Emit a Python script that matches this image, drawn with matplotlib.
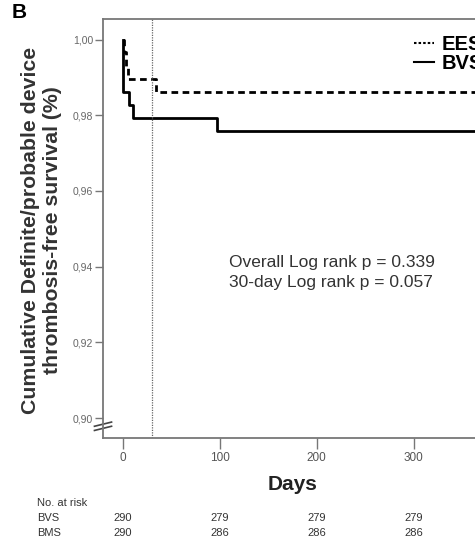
import matplotlib.pyplot as plt
from matplotlib.lines import Line2D
from matplotlib.transforms import blended_transform_factory

plt.rcParams['font.family'] = ['Liberation Sans', 'DejaVu Sans']

# datos de las curvas (Kaplan-Meier)
bvs_days = [0, 0.5, 6, 10, 97, 420]
bvs_surv = [1.0, 0.9862, 0.9828, 0.9793, 0.9758, 0.9758]
ees_days = [0, 1, 3, 5, 34, 420]
ees_surv = [1.0, 0.9966, 0.9931, 0.9897, 0.9862, 0.9862]

risk_days = [0, 100, 200, 300]
risk_bvs = [290, 279, 279, 279]
risk_bms = [290, 286, 286, 286]

xticks = [0, 100, 200, 300]
yticks = [0.90, 0.92, 0.94, 0.96, 0.98, 1.00]

fig = plt.figure(figsize=(4.75, 5.42), dpi=100)
ax = fig.add_axes([103 / 475, 104 / 542, 427 / 475, 419 / 542])

ax.step(ees_days, ees_surv, where='post', color='black', lw=2,
        linestyle=(0, (2.4, 1.6)))
ax.step(bvs_days, bvs_surv, where='post', color='black', lw=2)
ax.axvline(30, color='#666666', lw=0.9, linestyle=(0, (1, 1)))

ax.set_xlim(-20.6, 420)
ax.set_ylim(0.89472, 1.00542)
ax.set_xticks(xticks)
ax.set_yticks(yticks)
ax.set_yticklabels([f"{v:.2f}".replace('.', ',') for v in yticks])
ax.tick_params(axis='y', length=6, width=1, color='#777777', labelsize=7.5,
               labelcolor='#666666', pad=1)
ax.tick_params(axis='x', length=8, width=1, color='#777777', labelsize=8.5,
               labelcolor='#555555', pad=2)
for s in ax.spines.values():
    s.set_color('#777777')
    s.set_linewidth(1.3)

# marca de corte del eje
ax.plot([-0.02, 0.02], [0.028, 0.038], transform=ax.transAxes, color='#444444',
        lw=1.2, clip_on=False)
ax.plot([-0.02, 0.02], [0.018, 0.028], transform=ax.transAxes, color='#444444',
        lw=1.2, clip_on=False)

ax.text(109, 0.9411, 'Overall Log rank p = 0.339', fontsize=12.5, color='#333333', va='center')
ax.text(109, 0.9358, '30-day Log rank p = 0.057', fontsize=12.5, color='#333333', va='center')

handles = [Line2D([], [], color='black', lw=1.5, linestyle=(0, (1.2, 1))),
           Line2D([], [], color='black', lw=1.5)]
fig.legend(handles, ['EES', 'BVS'], loc='upper left', bbox_to_anchor=(396 / 475, 1 - 17 / 542),
           frameon=False, handlelength=1.0, handletextpad=0.35, labelspacing=0.0,
           prop={'weight': 'bold', 'size': 14.5})

fig.text(12 / 475, 1 - 12 / 542, 'B', fontsize=15, fontweight='bold', va='center')
fig.text(31 / 475, 1 - 230 / 542, 'Cumulative Definite/probable device',
         rotation=90, fontsize=15.3, fontweight='bold', color='#333333', ha='center', va='center')
fig.text(53 / 475, 1 - 230 / 542, 'thrombosis-free survival (%)',
         rotation=90, fontsize=15.3, fontweight='bold', color='#333333', ha='center', va='center')
fig.text(293 / 475, 1 - 484 / 542, 'Days', fontsize=15, fontweight='bold', color='#222222',
         ha='center', va='center')

# tabla de pacientes en riesgo
tr = blended_transform_factory(ax.transData, fig.transFigure)
fig.text(37 / 475, 1 - 503 / 542, 'No. at risk', fontsize=8, color='#333333', va='center')
fig.text(37 / 475, 1 - 518 / 542, 'BVS', fontsize=8, color='#333333', va='center')
fig.text(37 / 475, 1 - 533 / 542, 'BMS', fontsize=8, color='#333333', va='center')
for d, a, b in zip(risk_days, risk_bvs, risk_bms):
    ax.text(d, 1 - 518 / 542, str(a), transform=tr, fontsize=8, color='#333333',
            ha='center', va='center', clip_on=False)
    ax.text(d, 1 - 533 / 542, str(b), transform=tr, fontsize=8, color='#333333',
            ha='center', va='center', clip_on=False)

fig.savefig('out.png', dpi=100)
